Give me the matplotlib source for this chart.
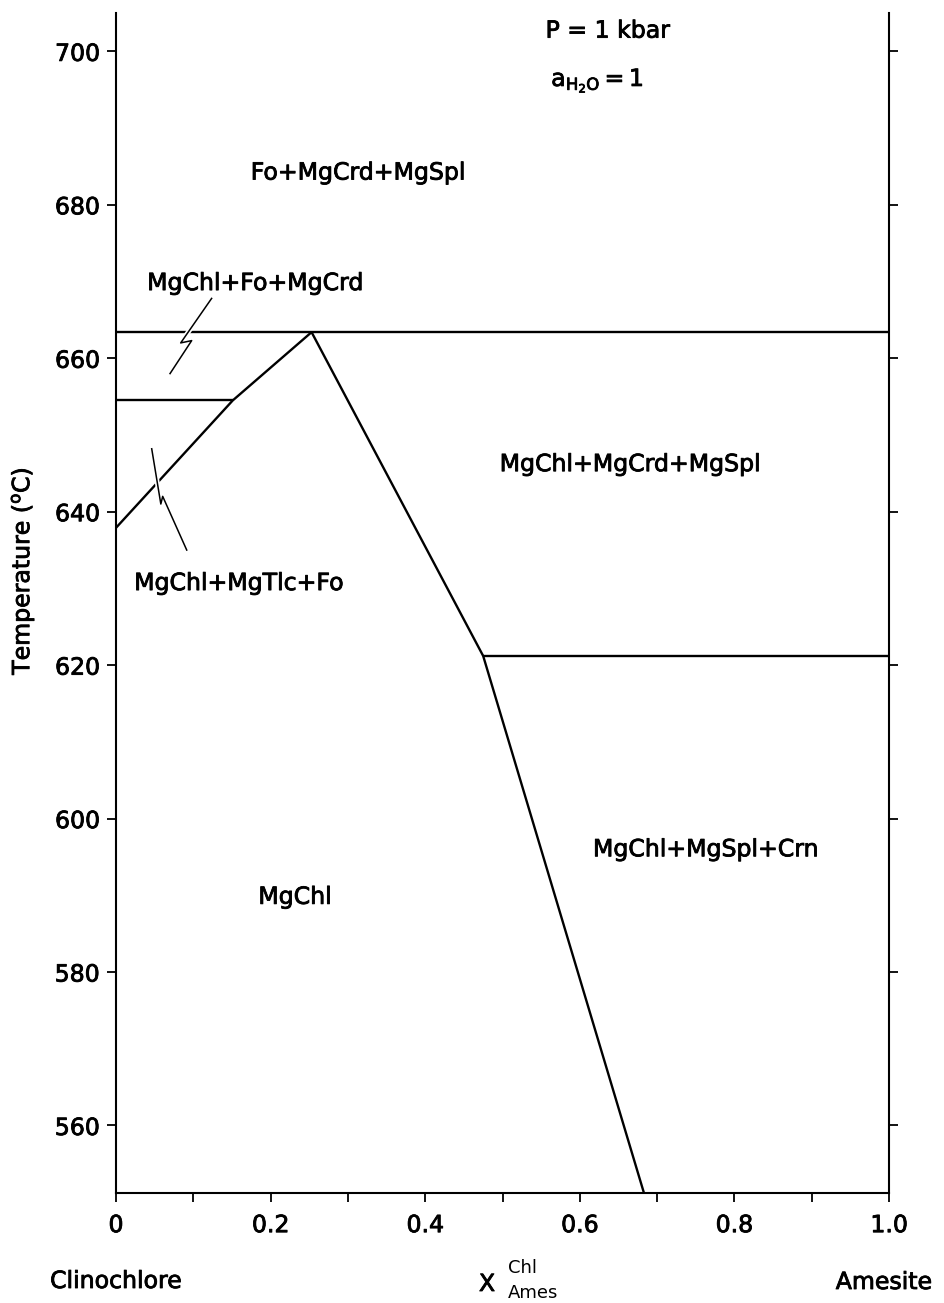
#!/usr/bin/env python3
"""
Diagrama T-X para clorita Mg (clinocloro - amesita), P = 1 kbar, aH2O = 1
"""

import matplotlib
matplotlib.use('Agg')
import matplotlib.pyplot as plt
import matplotlib.patheffects as pe
from matplotlib.ticker import MultipleLocator

# Curvas de reacao (X_Ames, T em C)
top_x = [0.0, 1.0]
top_t = [663.4, 663.4]

left_x = [0.0, 0.151]
left_t = [654.5, 654.5]

rise_x = [0.0, 0.151, 0.253]
rise_t = [637.9, 654.5, 663.4]

fall_x = [0.253, 0.475, 0.683]
fall_t = [663.4, 621.2, 551.2]

right_x = [0.475, 1.0]
right_t = [621.2, 621.2]

# Linhas indicadoras (zigue-zague) dos campos estreitos
lead1_x = [0.1237, 0.0837, 0.0979, 0.0699]
lead1_t = [667.8, 662.0, 662.3, 658.0]
lead2_x = [0.0462, 0.0580, 0.0604, 0.0915]
lead2_t = [648.2, 641.0, 642.0, 635.0]

# Campos de estabilidade
field_names = ['Fo+MgCrd+MgSpl', 'MgChl+Fo+MgCrd', 'MgChl+MgCrd+MgSpl',
               'MgChl+MgTlc+Fo', 'MgChl', 'MgChl+MgSpl+Crn']
field_x = [0.313, 0.180, 0.665, 0.159, 0.2316, 0.763]
field_t = [684.2, 669.8, 646.2, 630.7, 589.8, 596.0]

x_ticks = [0, 0.2, 0.4, 0.6, 0.8, 1.0]
x_labels = ['0', '0.2', '0.4', '0.6', '0.8', '1.0']
t_ticks = [560, 580, 600, 620, 640, 660, 680, 700]

plt.rcParams['font.family'] = ['DejaVu Sans']
FS = 17
# leve contorno para engrossar o texto como no original impresso
heavy = [pe.withStroke(linewidth=0.6, foreground='black')]

fig = plt.figure(figsize=(9.45, 13.03), dpi=100)
ax = fig.add_axes([116 / 945, 1 - 1193 / 1303, (889 - 116) / 945, (1193 - 13) / 1303])

lw = 1.7
for xs, ts in [(top_x, top_t), (left_x, left_t), (rise_x, rise_t),
               (fall_x, fall_t), (right_x, right_t)]:
    ax.plot(xs, ts, color='black', lw=lw, solid_capstyle='butt', zorder=2)

# indicadores com contorno branco para "cortar" a linha que atravessam
for xs, ts in [(lead1_x, lead1_t), (lead2_x, lead2_t)]:
    ax.plot(xs, ts, color='black', lw=1.1, zorder=3,
            path_effects=[pe.Stroke(linewidth=3.5, foreground='white'), pe.Normal()])

for name, x, t in zip(field_names, field_x, field_t):
    ax.text(x, t, name, fontsize=FS, ha='center', va='center', path_effects=heavy)

ax.text(0.636, 702.7, 'P = 1 kbar', fontsize=FS, ha='center', va='center',
        path_effects=heavy)
ax.text(0.563, 696.2, r'$\mathregular{a_{H_2O}=1}$', fontsize=FS, ha='left',
        va='center', path_effects=heavy)

ax.set_xlim(0, 1.0)
ax.set_ylim(551.2, 705)
ax.set_xticks(x_ticks)
ax.set_xticklabels(x_labels)
ax.xaxis.set_minor_locator(MultipleLocator(0.1))
ax.set_yticks(t_ticks)

ax.spines['top'].set_visible(False)
for s in ['left', 'right', 'bottom']:
    ax.spines[s].set_linewidth(1.5)

ax.tick_params(axis='x', which='both', direction='out', length=6.5, width=1.3,
               labelsize=FS, pad=8)
ax.tick_params(axis='y', which='both', direction='out', length=6.5, width=1.3,
               labelsize=FS, pad=5, right=True, labelright=False)
for lab in ax.get_xticklabels() + ax.get_yticklabels():
    lab.set_path_effects(heavy)

# rotulos dos eixos
fig.text(22 / 945, 1 - 571 / 1303, r'Temperature ($\mathregular{^o}$C)', fontsize=FS,
         rotation=90, ha='center', va='center', path_effects=heavy)
fig.text(116 / 945, 1 - 1281 / 1303, 'Clinochlore', fontsize=FS, ha='center',
         va='center', path_effects=heavy)
fig.text(884 / 945, 1 - 1282 / 1303, 'Amesite', fontsize=FS, ha='center',
         va='center', path_effects=heavy)
fig.text(487 / 945, 1 - 1284 / 1303, 'X', fontsize=FS, ha='center', va='center',
         path_effects=heavy)
fig.text(508 / 945, 1 - 1268 / 1303, 'Chl', fontsize=13, ha='left', va='center')
fig.text(508 / 945, 1 - 1293 / 1303, 'Ames', fontsize=13, ha='left', va='center')

fig.savefig('out.png', dpi=100)
